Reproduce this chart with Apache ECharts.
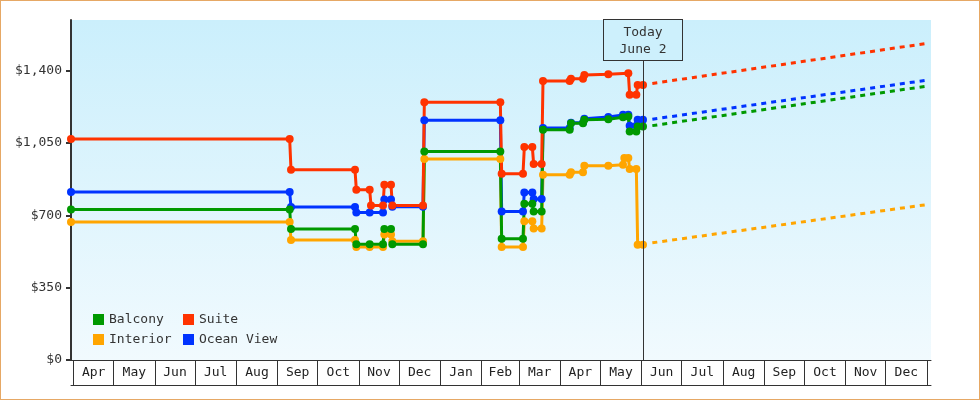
<!DOCTYPE html>
<html><head><meta charset="utf-8">
<script src="https://cdn.jsdelivr.net/npm/echarts@6/dist/echarts.min.js"></script>
<style>
html,body{margin:0;padding:0;background:#fff}
#wrap{position:relative;width:980px;height:400px}
#c{position:absolute;left:0;top:0;width:980px;height:400px}
#frame{position:absolute;left:0;top:0;width:980px;height:400px;box-sizing:border-box;border:1px solid #e6a865;pointer-events:none}
</style></head><body>
<div id="wrap"><div id="c"></div><div id="frame"></div></div>
<script>
// ---- data ----
const balcony = [
 ['2022-03-30',728],['2022-09-10',728],['2022-09-11',634],['2022-10-29',634],['2022-10-30',560],
 ['2022-11-09',560],['2022-11-19',560],['2022-11-20',634],['2022-11-25',634],['2022-11-26',560],
 ['2022-12-19',560],['2022-12-20',1009],['2023-02-15',1009],['2023-02-16',587],['2023-03-04',587],
 ['2023-03-05',756],['2023-03-11',756],['2023-03-12',719],['2023-03-18',719],['2023-03-19',1114],
 ['2023-04-08',1114],['2023-04-09',1146],['2023-04-18',1146],['2023-04-19',1162],['2023-05-07',1165],
 ['2023-05-18',1175],['2023-05-22',1178],['2023-05-23',1105],['2023-05-28',1105],['2023-05-29',1130],
 ['2023-06-02',1130]
];
const interior = [
 ['2022-03-30',668],['2022-09-10',668],['2022-09-11',581],['2022-10-29',581],['2022-10-30',547],
 ['2022-11-09',547],['2022-11-19',547],['2022-11-20',607],['2022-11-25',607],['2022-11-26',574],
 ['2022-12-19',574],['2022-12-20',972],['2023-02-15',972],['2023-02-16',547],['2023-03-04',547],
 ['2023-03-05',671],['2023-03-11',671],['2023-03-12',636],['2023-03-18',636],['2023-03-19',896],
 ['2023-04-08',896],['2023-04-09',908],['2023-04-18',908],['2023-04-19',940],['2023-05-07',940],
 ['2023-05-18',945],['2023-05-19',977],['2023-05-22',977],['2023-05-23',924],['2023-05-28',924],
 ['2023-05-29',558],['2023-06-02',558]
];
const suite = [
 ['2022-03-30',1069],['2022-09-10',1069],['2022-09-11',920],['2022-10-29',920],['2022-10-30',824],
 ['2022-11-09',824],['2022-11-10',748],['2022-11-19',748],['2022-11-20',848],['2022-11-25',848],
 ['2022-11-26',748],['2022-12-19',748],['2022-12-20',1247],['2023-02-15',1247],['2023-02-16',901],
 ['2023-03-04',901],['2023-03-05',1030],['2023-03-11',1030],['2023-03-12',948],['2023-03-18',948],
 ['2023-03-19',1350],['2023-04-08',1350],['2023-04-09',1361],['2023-04-18',1361],['2023-04-19',1379],
 ['2023-05-07',1383],['2023-05-22',1387],['2023-05-23',1283],['2023-05-28',1283],['2023-05-29',1331],
 ['2023-06-02',1331]
];
const oceanView = [
 ['2022-03-30',813],['2022-09-10',813],['2022-09-11',740],['2022-10-29',740],['2022-10-30',714],
 ['2022-11-09',714],['2022-11-19',714],['2022-11-20',776],['2022-11-25',776],['2022-11-26',742],
 ['2022-12-19',742],['2022-12-20',1160],['2023-02-15',1160],['2023-02-16',719],['2023-03-04',719],
 ['2023-03-05',811],['2023-03-11',811],['2023-03-12',779],['2023-03-18',779],['2023-03-19',1123],
 ['2023-04-08',1123],['2023-04-09',1148],['2023-04-18',1148],['2023-04-19',1167],['2023-05-07',1176],
 ['2023-05-18',1186],['2023-05-22',1186],['2023-05-23',1133],['2023-05-28',1133],['2023-05-29',1162],
 ['2023-06-02',1162]
];
const balconyForecast  = [['2023-06-09',1134],['2024-01-01',1325]];
const interiorForecast = [['2023-06-09',567],['2024-01-01',752]];
const suiteForecast    = [['2023-06-09',1338],['2024-01-01',1532]];
const oceanForecast    = [['2023-06-09',1165],['2024-01-01',1354]];

const monthLabels = ['Apr','May','Jun','Jul','Aug','Sep','Oct','Nov','Dec','Jan','Feb','Mar',
                     'Apr','May','Jun','Jul','Aug','Sep','Oct','Nov','Dec'];
const yTicks = [0,350,700,1050,1400];
const todayDate = '2023-06-02';
const todayText = 'Today\nJune 2';
const axisStart = '2022-03-30', axisEnd = '2024-01-04', firstMonth = [2022,3];
const yMax = 1645, todayBoxBase = 1452;

// ---- helpers ----
const t = s => Date.parse(s + 'T00:00:00Z');
const conv = arr => arr.map(d => [t(d[0]), d[1]]);
const monthStarts = [];
for (let i = 0; i <= monthLabels.length; i++) monthStarts.push(Date.UTC(firstMonth[0], firstMonth[1] + i, 1));
const monthMids = monthLabels.map((m, i) => (monthStarts[i] + monthStarts[i + 1]) / 2);
const FONT = 'DejaVu Sans Mono';
const colors = {Balcony:'#009900', Interior:'#ffa500', Suite:'#ff3300', 'Ocean View':'#0033ff'};

function actual(name, data, extra) {
  return Object.assign({
    name, type:'line', data: conv(data), symbol:'circle', symbolSize:8, showSymbol:true,
    lineStyle:{width:3, color:colors[name]}, itemStyle:{color:colors[name]},
    emphasis:{disabled:true}, animation:false
  }, extra || {});
}
function forecast(name, data) {
  return { name, type:'line', data: conv(data), symbol:'none',
    lineStyle:{width:3, color:colors[name], type:[5,5]}, itemStyle:{color:colors[name]},
    emphasis:{disabled:true}, animation:false };
}
const legendBase = {icon:'rect', itemWidth:11, itemHeight:11, padding:0, selectedMode:false,
  textStyle:{fontFamily:FONT, fontSize:13, color:'#333'}};

const chart = echarts.init(document.getElementById('c'), null, {renderer:'canvas'});
chart.setOption({
  animation:false,
  color: Object.values(colors),
  grid:{left:71, right:49, top:20, bottom:40, show:true, borderWidth:0,
    backgroundColor:new echarts.graphic.LinearGradient(0,0,0,1,[{offset:0,color:'#cbeffc'},{offset:1,color:'#f1fafe'}])},
  legend:[
    Object.assign({data:['Balcony'], left:93, top:313}, legendBase),
    Object.assign({data:['Suite'], left:183, top:313}, legendBase),
    Object.assign({data:['Interior'], left:93, top:333}, legendBase),
    Object.assign({data:['Ocean View'], left:183, top:333}, legendBase)
  ],
  xAxis:[{
    type:'value', min:t(axisStart), max:t(axisEnd),
    axisLine:{show:true, lineStyle:{color:'#333', width:1}},
    axisTick:{show:true, inside:false, length:25, customValues:monthStarts, lineStyle:{color:'#333', width:1}},
    axisLabel:{show:true, customValues:monthMids, margin:6, fontFamily:FONT, fontSize:13, color:'#222',
      formatter:(v) => { const i = monthMids.findIndex(m => Math.abs(m - v) < 86400000); return i >= 0 ? monthLabels[i] : ''; }},
    splitLine:{show:false}
  },{
    type:'value', min:t(axisStart), max:t(axisEnd), position:'bottom', offset:25,
    axisLine:{show:true, lineStyle:{color:'#333', width:1}},
    axisTick:{show:false}, axisLabel:{show:false}, splitLine:{show:false}
  }],
  yAxis:{
    type:'value', min:0, max:yMax,
    axisLine:{show:true, lineStyle:{color:'#333', width:2}},
    axisTick:{show:true, inside:false, length:5, customValues:yTicks, lineStyle:{color:'#333', width:2}},
    axisLabel:{customValues:yTicks, margin:9, fontFamily:FONT, fontSize:13, color:'#333',
      formatter:(v) => '$' + v.toLocaleString('en-US')},
    splitLine:{show:false}
  },
  series:[
    actual('Interior', interior, {markLine:{
      silent:true, symbol:'none', animation:false,
      lineStyle:{color:'#333', width:1, type:'solid'},
      emphasis:{disabled:true},
      label:{show:true, position:'end', distance:0, formatter:todayText,
        fontFamily:FONT, fontSize:13, color:'#333', lineHeight:17,
        backgroundColor:'#cdf0fc', borderColor:'#333', borderWidth:1,
        width:78, align:'center', padding:[4,0,2,0]},
      data:[[{coord:[t(todayDate),0]},{coord:[t(todayDate),todayBoxBase]}]]
    }}),
    actual('Ocean View', oceanView),
    actual('Balcony', balcony),
    actual('Suite', suite),
    forecast('Interior', interiorForecast),
    forecast('Ocean View', oceanForecast),
    forecast('Balcony', balconyForecast),
    forecast('Suite', suiteForecast)
  ]
});
</script>
</body></html>
